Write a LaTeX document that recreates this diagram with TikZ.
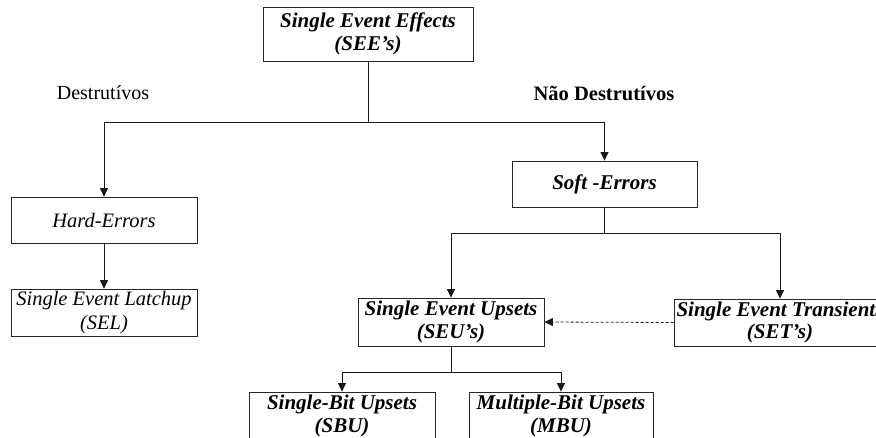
\documentclass[tikz,border=0pt]{standalone}
\usepackage{fontspec}
\setmainfont{Liberation Serif}
\usetikzlibrary{arrows.meta}
\begin{document}
\begin{tikzpicture}[x=1pt,y=-1pt,
  box/.style={draw=black!85, line width=0.8pt, rectangle, inner sep=0pt,
    align=center, font=\fontsize{21}{22.5}\selectfont\bfseries\itshape},
  plainbox/.style={box, font=\fontsize{20.5}{24}\selectfont\itshape},
  lbl/.style={inner sep=0pt, font=\fontsize{20}{22}\selectfont},
  wire/.style={line width=0.8pt, draw=black!90},
  arr/.style={wire, -{Triangle[length=8.5pt,width=8pt]}},
  dasharr/.style={arr, dash pattern=on 3pt off 2pt}]
\useasboundingbox (0,0) rectangle (876,437);
\clip (0,0) rectangle (876,437);

% boxes
\node[box, minimum width=210pt, minimum height=54pt] (see) at (368,34)
  {Single Event Effects\\(SEE’s)};
\node[plainbox, minimum width=186pt, minimum height=46pt] (hard) at (104,220)
  {Hard-Errors};
\node[plainbox, minimum width=186pt, minimum height=47pt] (sel) at (104,312.5)
  {Single Event Latchup\\(SEL)};
\node[box, minimum width=185pt, minimum height=46pt] (soft) at (604.5,184)
  {Soft -Errors};
\node[box, minimum width=186pt, minimum height=48pt] (seu) at (451,322)
  {Single Event Upsets\\(SEU’s)};
\node[box, minimum width=212pt, minimum height=47pt] (set) at (780,322.5)
  {Single Event Transients\\(SET’s)};
\node[box, minimum width=186pt, minimum height=48pt] (sbu) at (342,416)
  {Single-Bit Upsets\\(SBU)};
\node[box, minimum width=184pt, minimum height=48pt] (mbu) at (561,416)
  {Multiple-Bit Upsets\\(MBU)};

% category labels
\node[lbl] (destr) at (103,93) {Destrutívos};
\node[lbl, font=\fontsize{20.5}{22}\selectfont\bfseries] (ndestr) at (604,93) {Não Destrutívos};

% junction points
\coordinate (j1) at (see.south |- 0,122);
\coordinate (j2) at (soft.south |- 0,233);
\coordinate (j3) at (seu.south |- 0,372);

% connectors
\draw[wire] (see.south) -- (j1);
\draw[arr] (j1) -| (hard.north);
\draw[arr] (j1) -| (soft.north);
\draw[arr] (hard.south) -- (sel.north);
\draw[wire] (soft.south) -- (j2);
\draw[arr] (j2) -| (seu.north);
\draw[arr] (j2) -| (set.north);
\draw[dasharr] (set.west) -- (seu.east);
\draw[wire] (seu.south) -- (j3);
\draw[arr] (j3) -| (sbu.north);
\draw[arr] (j3) -| (mbu.north);
\end{tikzpicture}
\end{document}
